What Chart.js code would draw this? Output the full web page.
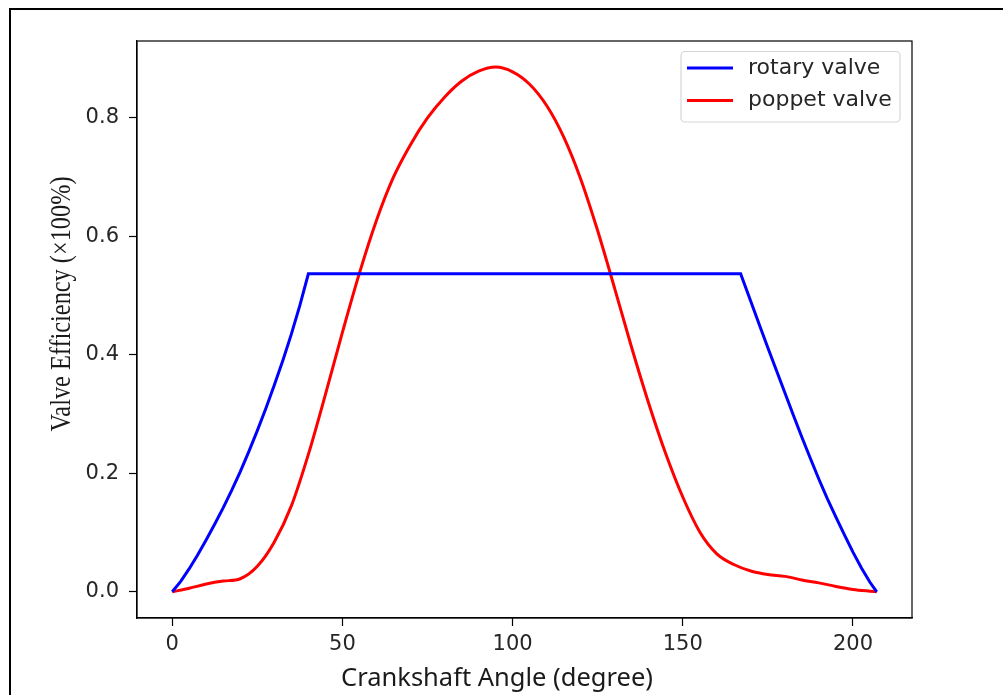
<!DOCTYPE html>
<html lang="en">
<head>
    <meta charset="UTF-8">
    <title>Valve Efficiency</title>
    <script src="https://cdn.jsdelivr.net/npm/chart.js"></script>
    <style>
        body { margin: 0; background: #fff; overflow: hidden; }
        #frame {
            position: absolute; left: 9px; top: 8px; width: 1100px; height: 800px;
            border-left: 2px solid #000; border-top: 2px solid #000;
            pointer-events: none;
        }
        canvas { position: absolute; left: 0; top: 0; }
    </style>
</head>
<body>
    <canvas id="valveChart" width="1003" height="695"></canvas>
    <div id="frame"></div>

    <script>
        // crank angle (deg) and efficiency
        const rotaryAngle = [0, 2.5, 5, 7.5, 10, 12.5, 15, 17.5, 20, 22.5, 25, 27.5, 30, 32.5, 35, 37.5, 40,
            167, 170, 172.5, 175, 177.5, 180, 182.5, 185, 187.5, 190, 192.5, 195, 197.5, 200, 202.5, 205, 207];
        const rotaryValve = [0, 0.0175, 0.039, 0.0625, 0.088, 0.1145, 0.142, 0.1715, 0.203, 0.2365, 0.272, 0.3095, 0.349, 0.3905, 0.435, 0.4835, 0.537,
            0.537, 0.490, 0.451, 0.412, 0.374, 0.336, 0.298, 0.261, 0.225, 0.190, 0.157, 0.126, 0.096, 0.067, 0.040, 0.016, 0];

        const poppetAngle = [0, 5, 10, 15, 20, 25, 30, 35, 40, 45, 50, 55, 60, 65, 70, 75, 80, 85, 90, 95,
            100, 105, 110, 115, 120, 125, 130, 135, 140, 145, 150, 155, 160, 165, 170, 175, 180, 185, 190, 195, 200, 205, 207];
        const poppetValve = [0, 0.006, 0.013, 0.018, 0.022, 0.043, 0.084, 0.145, 0.232, 0.333, 0.438, 0.538, 0.627, 0.700, 0.755, 0.800, 0.835, 0.862, 0.879, 0.886,
            0.878, 0.857, 0.821, 0.768, 0.697, 0.6095, 0.512, 0.412, 0.318, 0.233, 0.160, 0.101, 0.064, 0.046, 0.035, 0.029, 0.026, 0.020, 0.015, 0.009, 0.004, 0.001, 0];

        const seriesNames = ['rotary valve', 'poppet valve'];
        const xTicks = [0, 50, 100, 150, 200];
        const yTicks = [0, 0.2, 0.4, 0.6, 0.8];

        const xTitle = 'Crankshaft Angle (degree)';
        const yTitle = 'Valve Efficiency (\u00d7100%)';

        function toPoints(xs, ys) {
            return xs.map((x, i) => ({ x: x, y: ys[i] }));
        }

        // axes box, titles and legend
        const decorPlugin = {
            id: 'decor',
            beforeDraw(chart) {
                const ctx = chart.ctx;
                ctx.save();
                ctx.fillStyle = '#fff';
                ctx.fillRect(0, 0, chart.width, chart.height);
                ctx.restore();
            },
            afterDraw(chart) {
                const ctx = chart.ctx;
                const a = chart.chartArea;
                ctx.save();

                // plot box
                ctx.strokeStyle = '#000';
                ctx.lineWidth = 1.2;
                ctx.strokeRect(a.left, a.top, a.right - a.left, a.bottom - a.top);

                // x title
                ctx.fillStyle = '#1a1a1a';
                ctx.font = '25.5px "Noto Sans"';
                ctx.textAlign = 'center';
                ctx.textBaseline = 'alphabetic';
                ctx.fillText(xTitle, 497, 686);

                // y title (serif, a bit condensed)
                ctx.save();
                ctx.translate(62, 304);
                ctx.rotate(-Math.PI / 2);
                ctx.font = '29px "Liberation Serif"';
                let w = ctx.measureText(yTitle).width;
                ctx.scale(255 / w, 1);
                ctx.textAlign = 'center';
                ctx.textBaseline = 'middle';
                ctx.fillText(yTitle, 0, 0);
                ctx.restore();

                // legend
                const bx = 681, by = 51.5, bw = 219, bh = 70.5, r = 4;
                ctx.beginPath();
                ctx.moveTo(bx + r, by);
                ctx.arcTo(bx + bw, by, bx + bw, by + bh, r);
                ctx.arcTo(bx + bw, by + bh, bx, by + bh, r);
                ctx.arcTo(bx, by + bh, bx, by, r);
                ctx.arcTo(bx, by, bx + bw, by, r);
                ctx.closePath();
                ctx.fillStyle = 'rgba(255,255,255,0.8)';
                ctx.fill();
                ctx.strokeStyle = '#d6d6d6';
                ctx.lineWidth = 1.2;
                ctx.stroke();

                const rows = [68, 100.5];
                ctx.font = '22px "DejaVu Sans"';
                ctx.textAlign = 'left';
                ctx.textBaseline = 'middle';
                chart.data.datasets.forEach((ds, i) => {
                    ctx.strokeStyle = ds.borderColor;
                    ctx.lineWidth = 3;
                    ctx.beginPath();
                    ctx.moveTo(687, rows[i]);
                    ctx.lineTo(733, rows[i]);
                    ctx.stroke();
                    ctx.fillStyle = '#262626';
                    ctx.fillText(ds.label, 748, rows[i]);
                });
                ctx.restore();
            }
        };

        new Chart(document.getElementById('valveChart'), {
            type: 'line',
            data: {
                datasets: [
                    {
                        label: seriesNames[0],
                        data: toPoints(rotaryAngle, rotaryValve),
                        borderColor: '#0000ff',
                        borderWidth: 3,
                        pointRadius: 0,
                        tension: 0,
                        fill: false
                    },
                    {
                        label: seriesNames[1],
                        data: toPoints(poppetAngle, poppetValve),
                        borderColor: '#ff0000',
                        borderWidth: 3,
                        pointRadius: 0,
                        cubicInterpolationMode: 'monotone',
                        fill: false
                    }
                ]
            },
            options: {
                responsive: false,
                animation: false,
                layout: { padding: { left: 0, top: 41, right: 91, bottom: 0 } },
                plugins: {
                    legend: { display: false },
                    tooltip: { enabled: false }
                },
                scales: {
                    x: {
                        type: 'linear',
                        min: -10.35,
                        max: 217.35,
                        afterBuildTicks: (scale) => { scale.ticks = xTicks.map(v => ({ value: v })); },
                        afterFit: (scale) => { scale.height = 77; },
                        grid: { drawOnChartArea: false, drawTicks: true, tickLength: 8, tickColor: '#000', tickWidth: 1.2 },
                        border: { display: true, color: '#000', width: 1.2 },
                        ticks: { color: '#262626', font: { family: 'DejaVu Sans', size: 21 }, padding: 6, maxRotation: 0 }
                    },
                    y: {
                        type: 'linear',
                        min: -0.0443,
                        max: 0.930,
                        afterBuildTicks: (scale) => { scale.ticks = yTicks.map(v => ({ value: v })); },
                        afterFit: (scale) => { scale.width = 137; },
                        grid: { drawOnChartArea: false, drawTicks: true, tickLength: 8, tickColor: '#000', tickWidth: 1.2 },
                        border: { display: true, color: '#000', width: 1.2 },
                        ticks: { color: '#262626', font: { family: 'DejaVu Sans', size: 21 }, padding: 10,
                            callback: (v) => v.toFixed(1) }
                    }
                }
            },
            plugins: [decorPlugin]
        });
    </script>
</body>
</html>
